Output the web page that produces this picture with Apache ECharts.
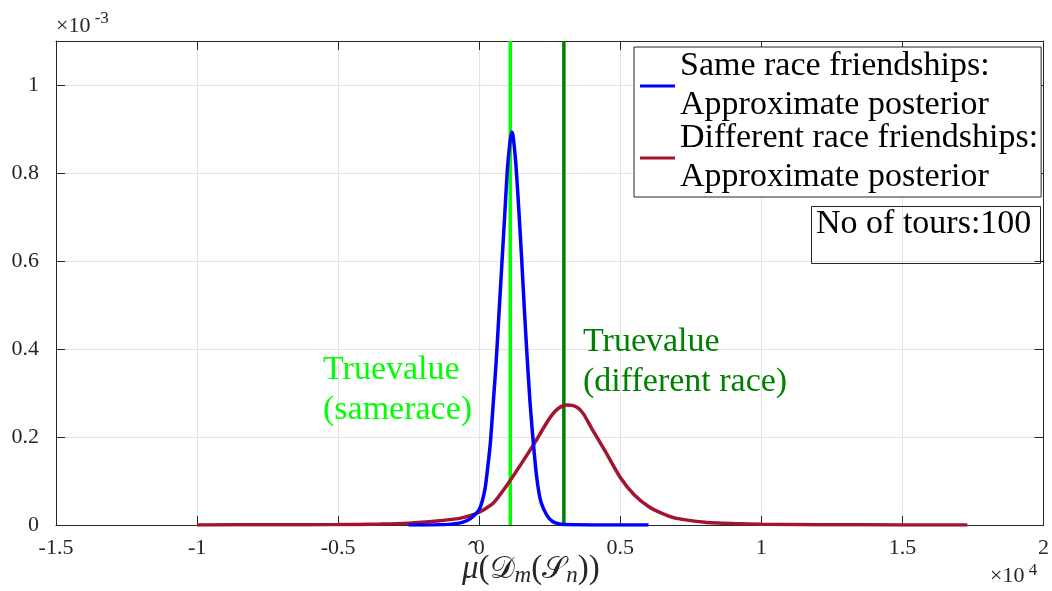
<!DOCTYPE html>
<html>
<head>
<meta charset="utf-8">
<script src="https://cdn.jsdelivr.net/npm/echarts@6/dist/echarts.min.js"></script>
<style>
html,body{margin:0;padding:0;background:#fff;}
#c{width:1052px;height:591px;}
</style>
</head>
<body>
<div id="c"></div>
<script>
// x values in units of 1e4, y values in units of 1e-3
const sameRaceX = [-0.25,-0.15,-0.10,-0.06,-0.03,0.00,0.02,0.03,0.04,0.05,0.06,0.07,0.08,0.09,0.10,0.11,0.116,0.12,0.13,0.14,0.15,0.16,0.17,0.18,0.19,0.20,0.21,0.22,0.24,0.26,0.28,0.30,0.40,0.60];
const sameRaceY = [0,0.0005,0.002,0.006,0.015,0.035,0.08,0.13,0.19,0.28,0.37,0.48,0.59,0.70,0.81,0.875,0.893,0.885,0.82,0.72,0.61,0.49,0.38,0.28,0.20,0.13,0.08,0.05,0.022,0.008,0.003,0.001,0.0002,0];
const diffRaceX = [-1.0,-0.7,-0.5,-0.35,-0.25,-0.15,-0.07,0.00,0.05,0.10,0.15,0.20,0.22,0.25,0.27,0.29,0.31,0.33,0.35,0.37,0.40,0.45,0.50,0.55,0.60,0.65,0.70,0.80,0.90,1.00,1.20,1.50,1.73];
const diffRaceY = [0.0002,0.0005,0.001,0.002,0.004,0.009,0.015,0.029,0.050,0.092,0.14,0.19,0.212,0.243,0.259,0.269,0.273,0.272,0.266,0.252,0.218,0.164,0.108,0.068,0.042,0.026,0.015,0.0065,0.0035,0.0018,0.0007,0.0002,0];
const trueSameX = 0.11;
const trueDiffX = 0.30;
const lineYRange = [0, 1.1];
const xTicks = {min: -1.5, max: 2, interval: 0.5};
const yTicks = {min: 0, max: 1.1, interval: 0.2};
const seriesNames = ['Same race friendships:\nApproximate posterior', 'Different race friendships:\nApproximate posterior'];

const pair = (xs, ys) => xs.map((x, i) => [x, ys[i]]);
const axisColor = '#262626';
const serif = '"Liberation Serif", "DejaVu Serif", serif';

const chart = echarts.init(document.getElementById('c'), null, {renderer: 'canvas'});
const baseX = {
  type: 'value', min: xTicks.min, max: xTicks.max, interval: xTicks.interval,
  axisLine: {show: true, onZero: false, lineStyle: {color: axisColor, width: 1}},
  axisTick: {show: true, inside: true, length: 9, lineStyle: {color: axisColor}},
};
const baseY = {
  type: 'value', min: yTicks.min, max: yTicks.max, interval: yTicks.interval,
  axisLine: {show: true, onZero: false, lineStyle: {color: axisColor, width: 1}},
  axisTick: {show: true, inside: true, length: 9, lineStyle: {color: axisColor}},
};
chart.setOption({
  animation: false,
  backgroundColor: '#fff',
  grid: {left: 56, right: 5.5, top: 41, bottom: 66, containLabel: false},
  xAxis: [
    Object.assign({}, baseX, {
      position: 'bottom',
      axisLabel: {show: true, color: axisColor, fontFamily: serif, fontSize: 22, margin: 12,
        formatter: v => String(v)},
      splitLine: {show: true, lineStyle: {color: '#e3e3e3', width: 1}}
    }),
    Object.assign({}, baseX, {position: 'top', axisLabel: {show: false}, splitLine: {show: false}})
  ],
  yAxis: [
    Object.assign({}, baseY, {
      position: 'left',
      axisLabel: {show: true, color: axisColor, fontFamily: serif, fontSize: 22, margin: 17,
        formatter: v => v > 1.05 ? '' : String(Math.round(v * 10) / 10)},
      splitLine: {show: true, lineStyle: {color: '#e3e3e3', width: 1}}
    }),
    Object.assign({}, baseY, {position: 'right', axisLabel: {show: false}, splitLine: {show: false}})
  ],
  legend: {
    left: 634, top: 47, orient: 'vertical',
    data: [{name: seriesNames[0], icon: 'rect'}, {name: seriesNames[1], icon: 'rect'}],
    itemWidth: 35, itemHeight: 3, itemGap: -6,
    padding: [0, 3, 0, 6],
    backgroundColor: '#fff', borderColor: axisColor, borderWidth: 1,
    textStyle: {fontFamily: serif, fontSize: 34, color: '#000', lineHeight: 39}
  },
  series: [
    {type: 'line', name: 'trueSame', data: lineYRange.map(y => [trueSameX, y]), symbol: 'none',
      lineStyle: {color: '#00ff00', width: 3.5}, silent: true, z: 2},
    {type: 'line', name: 'trueDiff', data: lineYRange.map(y => [trueDiffX, y]), symbol: 'none',
      lineStyle: {color: '#008000', width: 3.5}, silent: true, z: 2},
    {type: 'line', name: seriesNames[1], data: pair(diffRaceX, diffRaceY), symbol: 'none', smooth: 0.2,
      itemStyle: {color: '#a2142f'}, lineStyle: {color: '#a2142f', width: 3.5}, z: 3},
    {type: 'line', name: seriesNames[0], data: pair(sameRaceX, sameRaceY), symbol: 'none', smooth: 0.2,
      itemStyle: {color: '#0000ff'}, lineStyle: {color: '#0000ff', width: 3.5}, z: 4}
  ],
  graphic: [
    {type: 'text', left: 56, top: 10, z: 10, style: {
      text: '{a|×10}{b| -3}', rich: {
        a: {fontFamily: serif, fontSize: 22, fill: axisColor, verticalAlign: 'bottom'},
        b: {fontFamily: serif, fontSize: 17, fill: axisColor, verticalAlign: 'top', padding: [0,0,10,0]}
      }}},
    {type: 'text', left: 990, top: 562, z: 10, style: {
      text: '{a|×10}{b| 4}', rich: {
        a: {fontFamily: serif, fontSize: 22, fill: axisColor},
        b: {fontFamily: serif, fontSize: 17, fill: axisColor, padding: [0,0,12,0]}
      }}},
    {type: 'text', left: 462, top: 553, z: 10, style: {
      text: '{i|μ}{n|(}{c|𝒟}{s|m}{n|(}{c|𝒮}{s|n}{n|))}', rich: {
        i: {fontFamily: serif, fontStyle: 'italic', fontSize: 33, fill: axisColor},
        n: {fontFamily: serif, fontSize: 33, fill: axisColor},
        c: {fontFamily: '"DejaVu Sans", serif', fontSize: 31, fill: axisColor},
        s: {fontFamily: serif, fontStyle: 'italic', fontSize: 23, fill: axisColor, padding: [12,0,0,0]}
      }}},
    {type: 'text', left: 468, top: 539, z: 11, style: {
      text: 'ˆ', fill: axisColor, fontFamily: serif, fontSize: 28}},
    {type: 'text', left: 323, top: 350, z: 10, style: {
      text: 'Truevalue\n(samerace)', fill: '#00ff00', fontFamily: serif, fontSize: 34, lineHeight: 40}},
    {type: 'text', left: 583, top: 322, z: 10, style: {
      text: 'Truevalue\n(different race)', fill: '#008000', fontFamily: serif, fontSize: 34, lineHeight: 40}},
    {type: 'rect', left: 809, top: 204, z: 10, shape: {x: 0, y: 0, width: 229, height: 57},
      style: {fill: 'none', stroke: axisColor, lineWidth: 1}},
    {type: 'text', left: 816, top: 207, z: 10, style: {
      text: 'No of tours:100', fill: '#000', fontFamily: serif, fontSize: 34}}
  ]
});
</script>
</body>
</html>
